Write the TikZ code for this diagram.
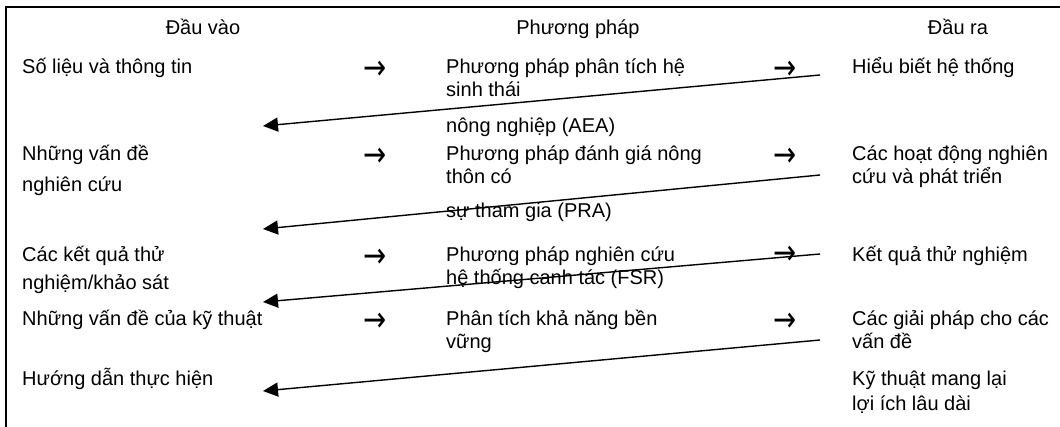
\documentclass[tikz,border=0pt]{standalone}
\usepackage{fontspec}
\setmainfont{Liberation Sans}
\newfontfamily\symfont{DejaVu Sans}
\usetikzlibrary{arrows.meta}
\newcommand{\fwd}{\scalebox{1.15}[1.45]{\symfont\fontsize{24}{24}\selectfont →}}
\begin{document}
\begin{tikzpicture}[x=1pt,y=-1pt,
  txt/.style={anchor=base west,inner sep=0pt,font=\fontsize{20}{23}\selectfont},
  hdr/.style={anchor=base,inner sep=0pt,font=\fontsize{20}{23}\selectfont},
  sym/.style={anchor=center,inner sep=0pt},
  back/.style={-{Triangle[length=15pt,width=14pt]},line width=1.4pt},
  frame/.style={line width=2pt}]
\useasboundingbox (0,0) rectangle (1060,427);
% frame
\draw[frame] (6,427) -- (6,7) -- (1060,7);
% headers
\node[hdr] (hIn)   at (203,35) {Đầu vào};
\node[hdr] (hMeth) at (578,35) {Phương pháp};
\node[hdr] (hOut)  at (958,35) {Đầu ra};
% inputs
\node[txt] (in1)  at (22,74)  {Số liệu và thông tin};
\node[txt] (in2a) at (22,161) {Những vấn đề};
\node[txt] (in2b) at (22,192) {nghiên cứu};
\node[txt] (in3a) at (22,262) {Các kết quả thử};
\node[txt] (in3b) at (22,290) {nghiệm/khảo sát};
\node[txt] (in4)  at (22,326) {Những vấn đề của kỹ thuật};
\node[txt] (in5)  at (22,385) {Hướng dẫn thực hiện};
% methods
\node[txt] (m1a) at (446,74)  {Phương pháp phân tích hệ};
\node[txt] (m1b) at (446,97)  {sinh thái};
\node[txt] (m1c) at (446,133) {nông nghiệp (AEA)};
\node[txt] (m2a) at (446,161) {Phương pháp đánh giá nông};
\node[txt] (m2b) at (446,184) {thôn có};
\node[txt] (m2c) at (446,218) {sự tham gia (PRA)};
\node[txt] (m3a) at (446,262) {Phương pháp nghiên cứu};
\node[txt] (m3b) at (446,285) {hệ thống canh tác (FSR)};
\node[txt] (m4a) at (446,326) {Phân tích khả năng bền};
\node[txt] (m4b) at (446,349) {vững};
% outputs
\node[txt] (o1)  at (852,74)  {Hiểu biết hệ thống};
\node[txt] (o2a) at (852,161) {Các hoạt động nghiên};
\node[txt] (o2b) at (852,184) {cứu và phát triển};
\node[txt] (o3)  at (852,262) {Kết quả thử nghiệm};
\node[txt] (o4a) at (852,326) {Các giải pháp cho các};
\node[txt] (o4b) at (852,349) {vấn đề};
\node[txt] (o5a) at (852,385) {Kỹ thuật mang lại};
\node[txt] (o5b) at (852,410) {lợi ích lâu dài};
% forward arrow glyphs
\node[sym] (a1l) at (375,70)  {\fwd};
\node[sym] (a1r) at (785,70)  {\fwd};
\node[sym] (a2l) at (375,157) {\fwd};
\node[sym] (a2r) at (785,157) {\fwd};
\node[sym] (a3l) at (375,258) {\fwd};
\node[sym] (a3r) at (785,255) {\fwd};
\node[sym] (a4l) at (375,322) {\fwd};
\node[sym] (a4r) at (785,322) {\fwd};
% feedback arrows
\coordinate (s1) at (820,75);  \coordinate (t1) at (263,126);
\coordinate (s2) at (820,175); \coordinate (t2) at (263,229);
\coordinate (s3) at (820,254); \coordinate (t3) at (263,302);
\coordinate (s4) at (820,340); \coordinate (t4) at (263,391);
\draw[back] (s1) -- (t1);
\draw[back] (s2) -- (t2);
\draw[back] (s3) -- (t3);
\draw[back] (s4) -- (t4);
\end{tikzpicture}
\end{document}
